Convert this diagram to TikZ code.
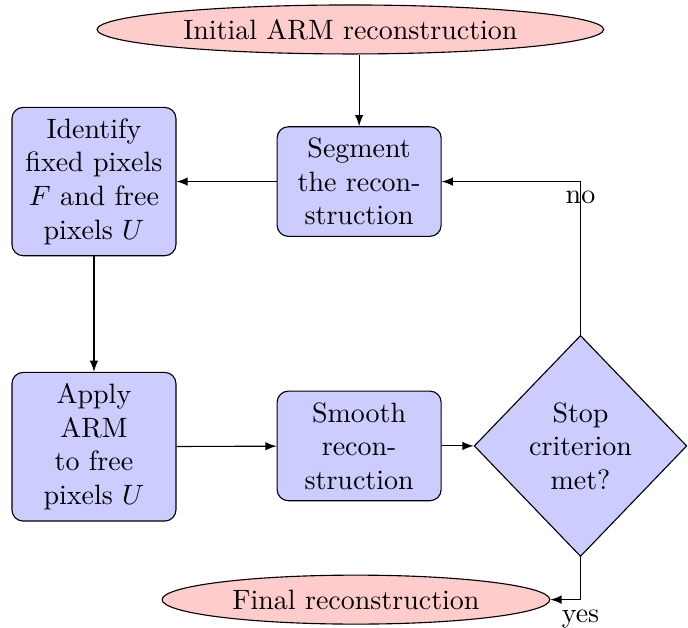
\documentclass[tikz,border=0pt]{standalone}
\usetikzlibrary{shapes.geometric,arrows}

\tikzset{
  block/.style={rectangle, draw, fill=blue!20, rounded corners, text width=50pt,
    align=center, inner sep=4pt, minimum width=58.6pt},
  decision/.style={diamond, draw, fill=blue!20, align=center, inner sep=0pt,
    minimum width=76pt, minimum height=79pt},
  cloud/.style={ellipse, draw, fill=red!20, inner sep=2pt, minimum height=17.5pt},
  line/.style={draw, -latex}
}

\begin{document}
\begin{tikzpicture}
  \useasboundingbox (0,0) rectangle (8.64,-7.88);

  \node[cloud, minimum width=181pt] (init) at (4.40, -0.37) {Initial ARM reconstruction};
  \node[block]  (seg)    at (4.51, -2.28) {Segment\\the recon-\\struction};
  \node[block]  (ident)  at (1.18, -2.28) {Identify\\fixed pixels\\$F$ and free\\pixels $U$};
  \node[block]  (apply)  at (1.18, -5.61) {Apply\\ARM\\to free\\pixels $U$};
  \node[block]  (smooth) at (4.51, -5.60) {Smooth\\recon-\\struction};
  \node[decision] (stop) at (7.29, -5.60) {Stop\\criterion\\met?};
  \node[cloud, minimum width=138.5pt] (final) at (4.47, -7.53) {Final reconstruction};

  \path[line] (init.south -| seg) -- (seg);
  \path[line] (seg) -- (ident);
  \path[line] (ident) -- (apply);
  \path[line] (apply) -- (smooth);
  \path[line] (smooth) -- (stop);
  \path[line] (stop.north) |- node[below] {no} (seg);
  \path[line] (stop.south) |- node[below] {yes} (final);
\end{tikzpicture}
\end{document}
